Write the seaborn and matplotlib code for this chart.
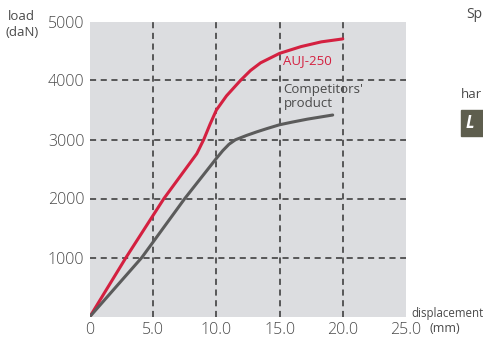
import pandas as pd
import matplotlib
matplotlib.use("Agg")
import matplotlib.pyplot as plt
from matplotlib.patches import Rectangle
import seaborn as sns

# values
auj_disp = [0, 2.85, 5.85, 8.45, 9.0, 9.5, 10.0, 10.8, 11.9, 12.7, 13.5,
            15.0, 16.7, 18.3, 20.0]
auj_load = [0, 1000, 2000, 2760, 3000, 3260, 3500, 3740, 4000, 4170, 4300,
            4460, 4575, 4655, 4705]
comp_disp = [0, 4.1, 7.5, 10.0, 10.5, 11.0, 11.5, 12.4, 13.2, 14.0,
             15.0, 16.0, 17.2, 18.2, 19.2]
comp_load = [0, 1000, 2000, 2680, 2810, 2920, 2995, 3070, 3130, 3185,
             3250, 3295, 3345, 3380, 3415]
x_ticks = [0, 5, 10, 15, 20, 25]
x_labels = ["0", "5.0", "10.0", "15.0", "20.0", "25.0"]
y_ticks = [1000, 2000, 3000, 4000, 5000]

df = pd.concat([
    pd.DataFrame({"disp": auj_disp, "load": auj_load, "product": "AUJ-250"}),
    pd.DataFrame({"disp": comp_disp, "load": comp_load, "product": "Competitors'"}),
])

sns.set_style("white")
plt.rcParams["font.family"] = ["Open Sans", "DejaVu Sans"]

red = "#d42040"
grey = "#5b5b5b"
txt = "#4a4a4a"

fig = plt.figure(figsize=(4.83, 3.38), dpi=100)
ax = fig.add_axes([90 / 483, 1 - 316.5 / 338, 316 / 483, 295 / 338])
ax.set_facecolor("#dcdde0")

sns.lineplot(data=df, x="disp", y="load", hue="product", sort=False,
             palette={"AUJ-250": red, "Competitors'": grey},
             linewidth=2.2, legend=False, ax=ax, zorder=3)

ax.set_xlim(0, 25)
ax.set_ylim(0, 5000)
ax.set_xticks(x_ticks)
ax.set_xticklabels(x_labels)
ax.set_yticks(y_ticks)
ax.tick_params(length=0, labelsize=11.5, labelcolor=txt, pad=4)
for lab in ax.get_xticklabels() + ax.get_yticklabels():
    lab.set_fontweight("light")
for s in ax.spines.values():
    s.set_visible(False)
ax.set_xlabel("")
ax.set_ylabel("")

for v in [5, 10, 15, 20]:
    ax.axvline(v, color="#333333", lw=1.1, ls=(0, (4, 3)), zorder=1)
for v in [1000, 2000, 3000, 4000]:
    ax.axhline(v, color="#333333", lw=1.1, ls=(0, (4, 3)), zorder=1)

ax.text(15.3, 4330, "AUJ-250", color=red, fontsize=9.5, va="center", zorder=4)
ax.text(15.3, 3725, "Competitors'\nproduct", color=txt, fontsize=9.5,
        va="center", linespacing=1.15, zorder=4)

fig.text(8 / 483, 1 - 17 / 338, "load", color=txt, fontsize=9.5,
         va="center", ha="left")
fig.text(5 / 483, 1 - 32 / 338, "(daN)", color=txt, fontsize=9.5,
         va="center", ha="left")
fig.text(411 / 483, 1 - 314 / 338, "displacement", color=txt, fontsize=8.3,
         va="center", ha="left")
fig.text(430 / 483, 1 - 329 / 338, "(mm)", color=txt, fontsize=9,
         va="center", ha="left")

# neighbouring content at the right edge
fig.text(466 / 483, 1 - 15 / 338, "Sp", color=txt, fontsize=10, va="center")
fig.text(461 / 483, 1 - 95 / 338, "har", color=txt, fontsize=9.5, va="center")
fig.patches.append(Rectangle((461 / 483, 1 - 136 / 338), 30 / 483, 26 / 338,
                             transform=fig.transFigure, color="#5e5e4e"))
fig.text(466 / 483, 1 - 123 / 338, "L", color="white", fontsize=12,
         fontweight="bold", fontstyle="italic", va="center")

fig.savefig("out.png", dpi=100)
